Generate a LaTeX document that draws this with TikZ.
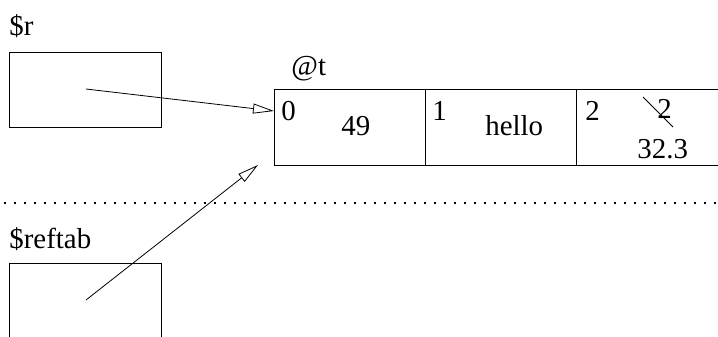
\documentclass[tikz,border=0pt]{standalone}
\usepackage{fontspec}
\setmainfont{Liberation Serif}
\usepackage{tikz}
\usetikzlibrary{arrows.meta, positioning}

\tikzset{
  cell/.style={draw, rectangle, minimum width=151bp, minimum height=76bp, outer sep=0pt, inner sep=0pt},
  varbox/.style={draw, rectangle, minimum width=152bp, minimum height=75bp, outer sep=0pt, inner sep=0pt},
  txt/.style={anchor=base west, inner sep=0pt},
  ptr/.style={-{Triangle[open, length=21bp, width=10bp]}}
}

\begin{document}
\begin{tikzpicture}[x=1bp, y=-1bp, line width=0.8bp, font=\fontsize{29}{34}\selectfont]
        \useasboundingbox (0,0) rectangle (718,336);
        % variables
        \node[varbox, anchor=north west] (r) at (9,52) {};
        \node[txt] (rname) at (9,35) {\$r};
        \node[varbox, anchor=north west, minimum height=85bp] (reftab) at (9,263) {};
        \node[txt] (reftabname) at (9,248) {\$reftab};
        % the array
        \begin{scope}[node distance=0pt]
          \node[cell, anchor=north west] (c0) at (274,89) {};
          \node[cell, right=of c0] (c1) {};
          \node[cell, right=of c1] (c2) {};
        \end{scope}
        \node[txt] (tname) at (291,75) {@t};
        \node[txt] (i0) at (281,120) {0};
        \node[txt] (i1) at (432,120) {1};
        \node[txt] (i2) at (585,120) {2};
        \node[txt] (v0) at (341,135) {49};
        \node[txt] (v1) at (485,135) {hello};
        \node[txt] (old) at (657,118) {2};
        \node[txt] (v2) at (637,158) {32.3};
        \draw (643,97) -- (673,127);
        % separator
        \draw[line width=1.6bp, dash pattern=on 1.6bp off 8.4bp] (4,203) -- (718,203);
        % pointers
        \coordinate (rp) at (86,89);
        \coordinate (tp) at (86,300);
        \coordinate (hit) at (258,165);
        \draw[ptr] (rp) -- (c0.west |- 0,111);
        \draw[ptr] (tp) -- (hit);
\end{tikzpicture}
\end{document}
